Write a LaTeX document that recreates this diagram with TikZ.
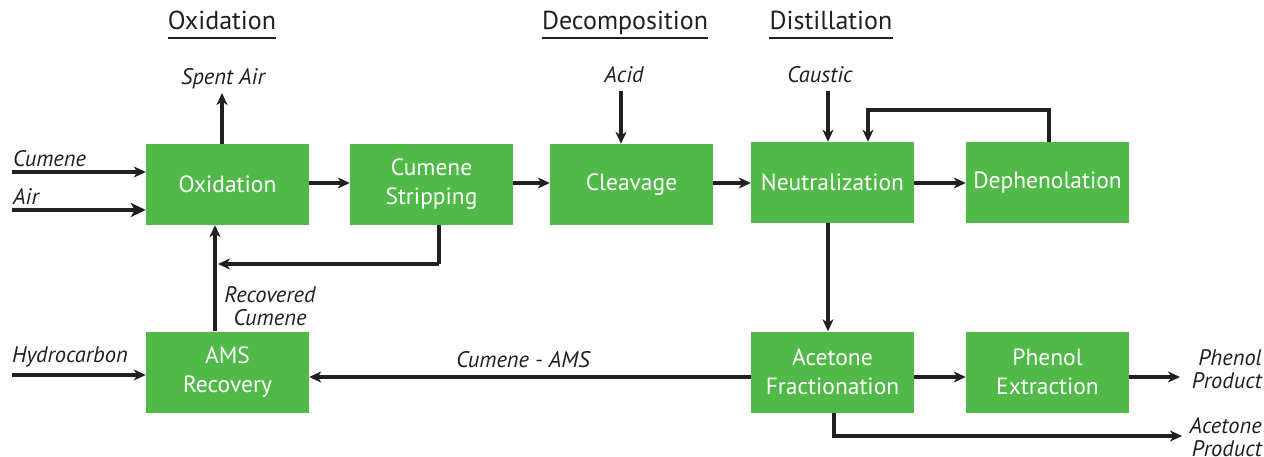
\documentclass[tikz,border=0pt]{standalone}
\usepackage{fontspec}
\setmainfont{PT Sans}
\usetikzlibrary{arrows.meta,calc}
\definecolor{boxgreen}{RGB}{80,185,72}
\definecolor{ink}{RGB}{35,31,32}
\tikzset{
  unit/.style={fill=boxgreen, draw=none, minimum width=163pt, minimum height=81pt,
    text=white, align=center, font=\fontsize{23.5}{29}\selectfont, inner sep=0pt},
  flow/.style={draw=ink, line width=3.1pt, -{Stealth[length=12pt,width=11pt,inset=3.5pt]}},
  bigflow/.style={flow, -{Stealth[length=15pt,width=14pt,inset=4pt]}},
  pipe/.style={draw=ink, line width=3.1pt},
  stream/.style={text=ink, font=\fontsize{22.5}{23}\itshape\selectfont, inner sep=0pt, align=center},
  stage/.style={text=ink, font=\fontsize{26}{28}\selectfont, inner sep=0pt, anchor=base},
}
\begin{document}
\begin{tikzpicture}[x=1pt,y=-1pt]
\useasboundingbox (0,0) rectangle (1264,457);

% section headings
\node[stage] (hOx) at (222,30) {Oxidation};
\node[stage] (hDe) at (625,30) {Decomposition};
\node[stage] (hDi) at (831,30) {Distillation};
\foreach \h in {hOx,hDe,hDi}
  \draw[pipe, line width=2.8pt] ($(\h.base west)+(0,8)$) -- ($(\h.base east)+(0,8)$);

% process units
\node[unit] (ox)  at (227.5,184.5) {Oxidation};
\node[unit] (st)  at (431.5,184.5) {Cumene\\Stripping};
\node[unit] (cl)  at (631.5,184.5) {Cleavage};
\node[unit] (ne)  at (832.5,182.5) {Neutralization};
\node[unit] (dp)  at (1047.5,182.5) {Dephenolation};
\node[unit] (ams) at (227.5,372) {AMS\\Recovery};
\node[unit] (af)  at (832.5,372) {Acetone\\Fractionation};
\node[unit] (pe)  at (1047.5,372) {Phenol\\Extraction};

% stream labels
\node[stream, anchor=west] (lcum) at (13,159) {Cumene};
\node[stream, anchor=west] (lair) at (13,197) {Air};
\node[stream] (lsa)  at (223,79) {Spent Air};
\node[stream] (lacid) at (624,75) {Acid};
\node[stream] (lcau) at (820,75) {Caustic};
\node[stream, anchor=west] (lhc) at (12,357) {Hydrocarbon};
\node[stream] (lrc)  at (270,306) {Recovered\\Cumene};
\node[stream] (lca)  at (523,360) {Cumene - AMS};
\node[stream, anchor=east, align=right] (lpp) at (1262,369) {Phenol\\Product};
\node[stream, anchor=east, align=right] (lap) at (1262,437) {Acetone\\Product};

% feed, vent and routing coordinates
\coordinate (cumin) at (12,172);
\coordinate (airin) at (12,210);
\coordinate (hcin)  at (12,375);
\coordinate (vent)  at (222,93);
\coordinate (acidin) at (621,91);
\coordinate (causin) at (828,91);
\coordinate (strip) at (439,225);
\coordinate (recyc) at (439,264);
\coordinate (rise)  at (215,264);
\coordinate (upper) at (0,183);
\coordinate (lower) at (0,377);
\coordinate (loopA) at (1049,110);
\coordinate (loopB) at (868,110);
\coordinate (acbot) at (834,436);
\coordinate (acout) at (1182,436);
\coordinate (phout) at (1180,377);

% oxidation section
\draw[flow] (cumin) -- (cumin -| ox.west);
\draw[bigflow] (airin) -- (airin -| ox.west);
\draw[flow] (vent |- ox.north) -- (vent);
\draw[flow] (upper -| ox.east) -- (upper -| st.west);
\draw[pipe] (strip) -- (recyc);
\draw[flow] (recyc) -- ($(rise)+(3,0)$);
\draw[flow] (rise |- ams.north) -- (rise |- ox.south);

% decomposition section
\draw[flow] (upper -| st.east) -- (upper -| cl.west);
\draw[flow] (acidin) -- (acidin |- cl.north);
\draw[flow] (upper -| cl.east) -- (upper -| ne.west);

% distillation section
\draw[flow] (causin) -- (causin |- ne.north);
\draw[flow] (upper -| ne.east) -- (upper -| dp.west);
\draw[flow] (loopA |- dp.north) -- (loopA) -- (loopB) -- (loopB |- ne.north);
\draw[flow] (ne.south -| causin) -- (causin |- af.north);
\draw[flow] (lower -| af.east) -- (lower -| pe.west);
\draw[flow] (lower -| pe.east) -- (phout);
\draw[flow] (acbot |- af.south) -- (acbot) -- (acout);
\draw[flow] (lower -| af.west) -- (lower -| ams.east);
\draw[flow] (hcin) -- (hcin -| ams.west);
\end{tikzpicture}
\end{document}
